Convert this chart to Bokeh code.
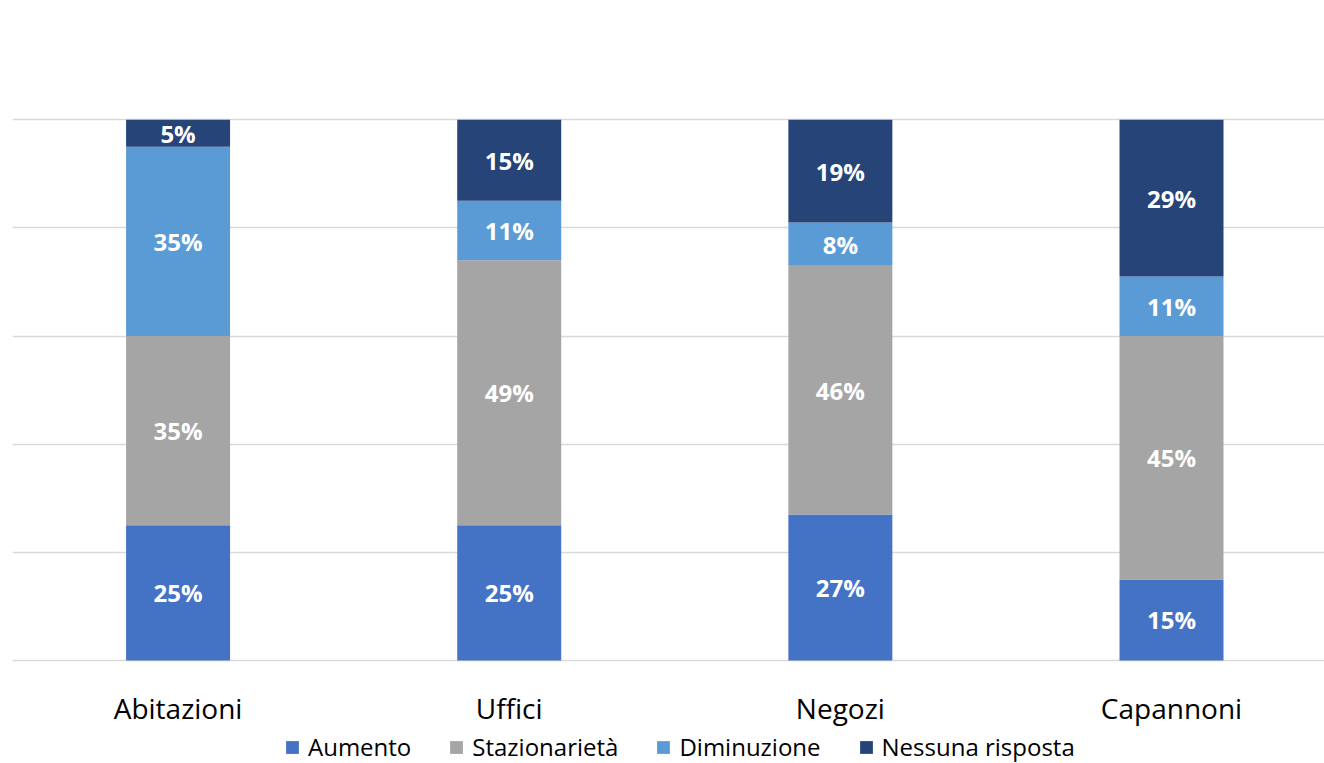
from bokeh.plotting import figure
from bokeh.models import Range1d, FixedTicker, Legend, ColumnDataSource
from bokeh.core.properties import value
from bokeh.embed import file_html
from bokeh.resources import INLINE

# Survey answers by property type (percent of respondents)
categories = ["Abitazioni", "Uffici", "Negozi", "Capannoni"]
series = ["Aumento", "Stazionarietà", "Diminuzione", "Nessuna risposta"]
aumento = [25, 25, 27, 15]
stazionarieta = [35, 49, 46, 45]
diminuzione = [35, 11, 8, 11]
nessuna_risposta = [5, 15, 19, 29]
colors = ["#4472C4", "#A5A5A5", "#5B9BD5", "#264478"]
y_ticks = [0, 20, 40, 60, 80, 100, 120]

FONT = "Open Sans"

x_pos = [i + 0.5 for i in range(len(categories))]
keys = ["aumento", "stazionarieta", "diminuzione", "nessuna"]
data = dict(x=x_pos, aumento=aumento, stazionarieta=stazionarieta,
            diminuzione=diminuzione, nessuna=nessuna_risposta)
source = ColumnDataSource(data)

# The frame runs to the bottom of the canvas so the legend can sit under
# the category labels; the value axis spans 0-120 over the upper 649 px.
FRAME_H = 752
PX_PER_UNIT = 649 / 120
y_low = -(FRAME_H - 649) / PX_PER_UNIT

p = figure(width=1324, height=763, output_backend="svg", toolbar_location=None,
           x_range=Range1d(0, 3.962), y_range=Range1d(y_low, 120),
           frame_width=1312, frame_height=FRAME_H,
           min_border_left=12, min_border_right=0, min_border_top=11,
           min_border_bottom=0)
p.outline_line_color = None
p.background_fill_color = "white"
p.border_fill_color = "white"

renderers = p.vbar_stack(keys, x="x", width=0.314, source=source,
                         fill_color=colors, line_color=None)

# Segment labels at each segment's midpoint
lx, ly, lt = [], [], []
for i, xc in enumerate(x_pos):
    base = 0
    for vals in (aumento, stazionarieta, diminuzione, nessuna_risposta):
        v = vals[i]
        lx.append(xc)
        ly.append(base + v / 2)
        lt.append(f"{v}%")
        base += v
p.text(x=lx, y=ly, text=lt, text_color="white", text_font=value(FONT),
       text_font_style="bold", text_font_size="24px",
       text_align="center", text_baseline="middle")

# Category axis pinned at the zero line
p.yaxis.visible = False
p.xaxis.fixed_location = 0
p.xaxis.ticker = FixedTicker(ticks=x_pos)
p.xaxis.major_label_overrides = {x: c for x, c in zip(x_pos, categories)}
p.xaxis.axis_line_color = None
p.xaxis.major_tick_line_color = None
p.xaxis.minor_tick_line_color = None
p.xaxis.major_label_text_font = FONT
p.xaxis.major_label_text_font_size = "28px"
p.xaxis.major_label_text_color = "#000000"
p.xaxis.major_label_standoff = 22

p.xgrid.visible = False
p.ygrid.ticker = FixedTicker(ticks=y_ticks)
p.ygrid.grid_line_color = "#D9D9D9"
p.ygrid.grid_line_width = 1.5

legend = Legend(items=[(s, [r]) for s, r in zip(series, renderers)],
                orientation="horizontal", location=(272, 0),
                label_text_font=FONT, label_text_font_size="24px",
                label_text_color="#000000",
                glyph_width=16, glyph_height=16, label_standoff=8,
                spacing=37, border_line_color=None,
                background_fill_alpha=0, margin=0, padding=0)
p.add_layout(legend, "center")

open("out.html", "w").write(file_html(p, INLINE))
